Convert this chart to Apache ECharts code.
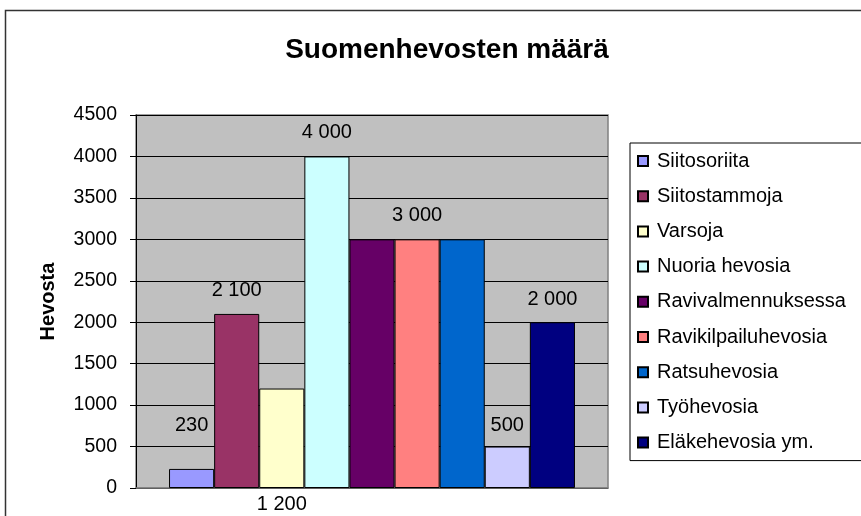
<!DOCTYPE html>
<html>
<head>
<meta charset="utf-8">
<script src="https://cdn.jsdelivr.net/npm/echarts@6/dist/echarts.min.js"></script>
<style>
html,body{margin:0;padding:0;background:#fff;}
#chart{width:861px;height:516px;}
</style>
</head>
<body>
<div id="chart"></div>
<script>
// ---- data ----
var categories = [''];
var seriesNames = ['Siitosoriita','Siitostammoja','Varsoja','Nuoria hevosia','Ravivalmennuksessa','Ravikilpailuhevosia','Ratsuhevosia','Työhevosia','Eläkehevosia ym.'];
var values = [230, 2100, 1200, 4000, 3000, 3000, 3000, 500, 2000];
var yTicks = [0, 500, 1000, 1500, 2000, 2500, 3000, 3500, 4000, 4500];

// ---- styling ----
var colors = ['#9999FF','#993366','#FFFFCC','#CCFFFF','#660066','#FF8080','#0066CC','#CCCCFF','#000080'];
var FONT = 'Liberation Sans, Arial, sans-serif';
// label placement per series (Excel-like)
var labelCfg = [
  {show:true, position:'top', distance:33},
  {show:true, position:'top', distance:13},
  {show:true, position:'bottom', distance:6},
  {show:true, position:'top', distance:14},
  {show:false},
  {show:true, position:'top', distance:14},
  {show:false},
  {show:true, position:'top', distance:11},
  {show:true, position:'top', distance:13}
];

function fmt(v){ return String(v).replace(/\B(?=(\d{3})+(?!\d))/g, ' '); }

var series = seriesNames.map(function(name, i){
  var lc = labelCfg[i];
  return {
    name: name,
    type: 'bar',
    data: [values[i]],
    barGap: '0%',
    barCategoryGap: '14%',
    itemStyle: {color: colors[i], borderColor: '#000', borderWidth: 1},
    label: {
      show: lc.show,
      position: lc.position || 'top',
      distance: lc.distance || 5,
      color: '#000',
      fontFamily: FONT,
      fontSize: 20,
      formatter: function(p){ return fmt(p.value); }
    },
    emphasis: {disabled: true},
    animation: false
  };
});

var chart = echarts.init(document.getElementById('chart'), null, {renderer:'canvas'});
chart.setOption({
  animation: false,
  backgroundColor: '#fff',
  color: colors,
  title: {
    text: 'Suomenhevosten määrä',
    left: 442, top: 31, textAlign: 'center',
    textStyle: {fontFamily: FONT, fontSize: 28, fontWeight: 'bold', color: '#000'}
  },
  graphic: [{
    type: 'rect', shape: {x: 5.5, y: 10.5, width: 900, height: 600},
    style: {fill: null, stroke: '#333', lineWidth: 1.5}, silent: true, z: -1
  }],
  legend: {
    orient: 'vertical',
    left: 630, top: 143,
    padding: [8, 60, 8, 7],
    itemWidth: 10, itemHeight: 10, itemGap: 15.2,
    icon: 'rect',
    borderColor: '#000', borderWidth: 1,
    backgroundColor: '#fff',
    textStyle: {fontFamily: FONT, fontSize: 20, lineHeight: 20, color: '#000', padding: [0,0,0,4]},
    data: seriesNames
  },
  grid: {
    left: 136, top: 115, width: 472, height: 373,
    show: true, backgroundColor: '#C0C0C0', borderColor: '#808080', borderWidth: 1.5
  },
  xAxis: {
    type: 'category', data: categories,
    axisLine: {show: true, lineStyle: {color: '#808080', width: 1.5}},
    axisTick: {show: false},
    axisLabel: {show: false}
  },
  yAxis: {
    type: 'value', min: 0, max: 4500, interval: 500,
    name: 'Hevosta', nameLocation: 'middle', nameRotate: 90, nameGap: 78,
    nameTextStyle: {fontFamily: FONT, fontSize: 20, fontWeight: 'bold', color: '#000'},
    axisLine: {show: true, lineStyle: {color: '#000', width: 1}},
    axisTick: {show: true, length: 6, lineStyle: {color: '#000'}},
    axisLabel: {fontFamily: FONT, fontSize: 19.5, color: '#000', margin: 19,
      formatter: function(v){ return yTicks.indexOf(v) >= 0 ? String(v) : ''; }},
    splitLine: {show: true, lineStyle: {color: '#000', width: 1}}
  },
  series: series
});
</script>
</body>
</html>
